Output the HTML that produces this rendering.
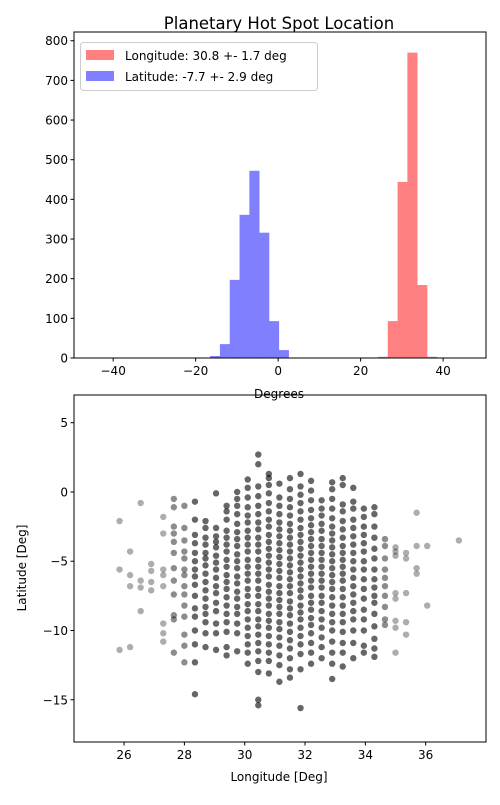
<!DOCTYPE html>
<html><head><meta charset="utf-8"><style>
body{margin:0;background:#fff;font-family:"Liberation Sans","DejaVu Sans",sans-serif}
svg text{font-family:"DejaVu Sans","Liberation Sans",sans-serif;fill:#000}
</style></head><body>
<svg id="c" width="500" height="800" xmlns="http://www.w3.org/2000/svg"></svg>
<script>
// Histogram data
const latBinStart = -16.5, lonBinStart = 24.2, binWidth = 2.38;
const latCounts = [5, 35, 197, 361, 472, 316, 93, 20];
const lonCounts = [3, 93, 444, 770, 184, 3];
const histXTicks = [-40, -20, 0, 20, 40];
const histYTicks = [0, 100, 200, 300, 400, 500, 600, 700, 800];
// Scatter data: longitude columns and latitude values per column
const scatterLons = [25.85,26.2,26.55,26.9,27.3,27.65,28.0,28.35,28.7,29.05,29.4,29.75,30.1,30.45,30.8,31.15,31.5,31.85,32.2,32.55,32.9,33.25,33.6,33.95,34.3,34.65,35.0,35.35,35.7,36.05,37.1];
const scatterLats = [
[-2.1,-5.6,-11.4],
[-4.3,-6.0,-6.8,-11.2],
[-0.8,-6.4,-6.9,-8.6],
[-5.2,-5.7,-6.5,-7.1],
[-1.8,-3.0,-5.6,-6.0,-6.8,-9.5,-10.2,-10.8],
[-0.5,-1.1,-2.5,-3.0,-3.6,-4.4,-5.5,-6.4,-7.4,-8.9,-9.2,-11.6],
[-1.0,-2.6,-3.5,-4.3,-4.8,-5.6,-6.0,-6.8,-7.4,-8.2,-9.0,-10.3,-11.1,-12.3],
[-0.7,-2.0,-3.1,-3.7,-4.4,-5.0,-5.6,-6.1,-6.7,-7.5,-8.4,-9.0,-10.0,-11.0,-12.3,-14.6],
[-2.1,-2.6,-3.3,-3.8,-4.4,-4.8,-5.3,-5.9,-6.5,-7.1,-7.7,-8.3,-8.8,-9.4,-10.2,-11.2],
[-0.1,-2.6,-3.2,-3.6,-4.0,-4.6,-5.1,-5.6,-6.2,-6.8,-7.3,-8.0,-8.6,-9.5,-10.2,-11.4],
[-1.0,-1.4,-2.0,-2.8,-3.3,-3.8,-4.3,-4.9,-5.4,-6.0,-6.5,-7.0,-7.6,-8.2,-8.8,-9.4,-10.1,-11.2,-11.8],
[0.0,-0.5,-1.0,-1.6,-2.3,-2.9,-3.4,-3.9,-4.5,-5.0,-5.5,-6.1,-6.6,-7.2,-7.7,-8.3,-8.8,-9.5,-10.2,-11.5],
[0.9,0.3,-0.4,-1.1,-1.7,-2.2,-2.8,-3.3,-3.8,-4.3,-4.9,-5.4,-5.9,-6.4,-7.0,-7.5,-8.1,-8.6,-9.2,-9.8,-10.4,-11.0,-11.6,-12.4],
[2.7,2.0,0.4,-0.3,-1.0,-1.6,-2.2,-2.7,-3.3,-3.8,-4.3,-4.9,-5.4,-5.9,-6.4,-7.0,-7.5,-8.1,-8.6,-9.2,-9.7,-10.3,-10.9,-11.5,-12.2,-13.0,-15.0,-15.4],
[1.3,1.0,0.5,-0.1,-0.8,-1.4,-2.0,-2.5,-3.1,-3.6,-4.1,-4.6,-5.1,-5.6,-6.1,-6.7,-7.2,-7.7,-8.2,-8.8,-9.3,-9.8,-10.4,-11.0,-11.6,-12.2,-13.1],
[0.6,-0.4,-1.0,-1.6,-2.2,-2.7,-3.2,-3.7,-4.2,-4.7,-5.2,-5.7,-6.2,-6.8,-7.3,-7.8,-8.3,-8.8,-9.4,-9.9,-10.5,-11.1,-11.8,-12.5,-13.7],
[1.0,0.2,-0.5,-1.1,-1.7,-2.3,-2.8,-3.3,-3.8,-4.3,-4.8,-5.3,-5.8,-6.3,-6.8,-7.3,-7.9,-8.4,-8.9,-9.5,-10.1,-10.7,-11.3,-12.0,-12.8,-13.4],
[1.3,0.4,-0.2,-0.8,-1.4,-2.0,-2.6,-3.1,-3.6,-4.1,-4.6,-5.1,-5.6,-6.1,-6.6,-7.1,-7.6,-8.2,-8.7,-9.2,-9.8,-10.4,-11.0,-11.7,-12.8,-15.6],
[0.8,0.1,-0.6,-1.3,-1.9,-2.4,-2.9,-3.4,-3.9,-4.4,-4.9,-5.4,-5.9,-6.4,-6.9,-7.5,-8.0,-8.5,-9.1,-9.6,-10.2,-10.9,-11.6,-12.4],
[-0.6,-1.2,-1.7,-2.3,-2.8,-3.4,-3.9,-4.4,-4.9,-5.4,-5.9,-6.4,-6.9,-7.5,-8.0,-8.6,-9.2,-9.8,-10.5,-11.2,-12.0],
[0.7,0.2,-0.5,-1.2,-1.9,-2.5,-3.0,-3.5,-4.0,-4.5,-5.0,-5.5,-6.0,-6.5,-7.0,-7.6,-8.2,-8.8,-9.4,-10.0,-10.8,-11.6,-12.4,-13.5],
[1.0,0.5,-0.9,-1.4,-2.1,-2.7,-3.3,-3.9,-4.4,-4.9,-5.4,-5.9,-6.4,-7.0,-7.6,-8.2,-8.8,-9.4,-10.1,-10.9,-11.6,-12.6],
[0.3,-0.7,-1.2,-2.0,-2.6,-3.2,-3.8,-4.4,-5.0,-5.6,-6.2,-6.8,-7.4,-8.0,-8.6,-9.2,-10.0,-10.9,-12.0],
[-1.2,-1.8,-2.5,-3.1,-3.7,-4.3,-5.0,-5.6,-6.3,-7.0,-7.7,-8.5,-9.2,-10.0,-11.1,-11.6],
[-1.1,-1.6,-2.5,-3.3,-4.1,-4.8,-5.6,-6.3,-6.9,-7.5,-8.0,-8.8,-9.7,-10.6,-11.3,-11.9],
[-3.4,-3.9,-4.8,-5.6,-6.2,-6.8,-7.5,-8.3,-9.2,-9.6],
[-4.0,-4.3,-4.6,-7.3,-7.7,-9.3,-9.8,-11.6],
[-4.4,-4.8,-7.3,-9.4,-10.3],
[-1.5,-3.9,-5.5,-5.9],
[-3.9,-8.2],
[-3.5]
];
const scXTicks = [26, 28, 30, 32, 34, 36];
const scYTicks = [5, 0, -5, -10, -15];

const NS = "http://www.w3.org/2000/svg";
const svg = document.getElementById('c');
function mk(tag, attrs, parent) {
  const e = document.createElementNS(NS, tag);
  for (const k in attrs) e.setAttribute(k, attrs[k]);
  (parent || svg).appendChild(e);
  return e;
}
function txt(s, x, y, size, anchor, parent) {
  const t = mk('text', {x: x, y: y, 'font-size': size, 'text-anchor': anchor || 'middle'}, parent);
  t.textContent = s;
  return t;
}

// ---------- Histogram ----------
const H = {l: 74, r: 486, t: 32, b: 358, xmin: -49.5, xmax: 50.4, ymin: 0, ymax: 822};
const hx = v => H.l + (v - H.xmin) / (H.xmax - H.xmin) * (H.r - H.l);
const hy = v => H.b - (v - H.ymin) / (H.ymax - H.ymin) * (H.b - H.t);
const g1 = mk('g', {});


latCounts.forEach((c, i) => {
  const x0 = hx(latBinStart + i * binWidth), x1 = hx(latBinStart + (i + 1) * binWidth);
  const r = mk('rect', {x: x0, y: hy(c), width: x1 - x0 + 0.3, height: hy(0) - hy(c), fill: '#8080ff'}, g1);
  
  
});
lonCounts.forEach((c, i) => {
  const x0 = hx(lonBinStart + i * binWidth), x1 = hx(lonBinStart + (i + 1) * binWidth);
  const r = mk('rect', {x: x0, y: hy(c), width: x1 - x0 + 0.3, height: hy(0) - hy(c), fill: '#ff8080'}, g1);
  
  
});
mk('rect', {x: H.l, y: H.t, width: H.r - H.l, height: H.b - H.t, fill: 'none', stroke: '#000', 'stroke-width': 1}, g1);
histXTicks.forEach(v => {
  mk('line', {x1: hx(v), x2: hx(v), y1: H.b, y2: H.b + 3.5, stroke: '#000'}, g1);
  txt(v < 0 ? '\u2212' + (-v) : String(v), hx(v), H.b + 17, 12, 'middle', g1);
});
histYTicks.forEach(v => {
  mk('line', {x1: H.l - 3.5, x2: H.l, y1: hy(v), y2: hy(v), stroke: '#000'}, g1);
  txt(String(v), H.l - 6, hy(v) + 4.5, 12, 'end', g1);
});
const ht = txt('Planetary Hot Spot Location', 279, 29, 16.5, 'middle', g1);


const hxl = txt('Degrees', 279, 398, 12, 'middle', g1);


// legend
const lg = mk('g', {}, g1);


mk('rect', {x: 80.5, y: 42.5, width: 237, height: 48, rx: 3, fill: '#fff', 'fill-opacity': 0.8, stroke: '#ccc'}, lg);
mk('rect', {x: 86, y: 50, width: 28, height: 10, fill: '#ff8080'}, lg);
mk('rect', {x: 86, y: 71, width: 28, height: 10, fill: '#8080ff'}, lg);
txt('Longitude: 30.8 +- 1.7 deg', 125, 60, 12, 'start', lg);
txt('Latitude: -7.7 +- 2.9 deg', 125, 81, 12, 'start', lg);

// ---------- Scatter ----------
const S = {l: 74, r: 486, t: 395, b: 742, xmin: 24.34, xmax: 38.0, ymin: -18.05, ymax: 7.0};
const sx = v => S.l + (v - S.xmin) / (S.xmax - S.xmin) * (S.r - S.l);
const sy = v => S.b - (v - S.ymin) / (S.ymax - S.ymin) * (S.b - S.t);
const g2 = mk('g', {});


scatterLons.forEach((lon, i) => {
  const n = scatterLats[i].length;
  scatterLats[i].forEach(lat => {
    const op = n > 15 ? 0.6 : (n > 8 ? 0.45 : 0.32);
    const c = mk('circle', {cx: sx(lon), cy: sy(lat), r: 3.2, fill: '#000', 'fill-opacity': op}, g2);
    
    
  });
});
mk('rect', {x: S.l, y: S.t, width: S.r - S.l, height: S.b - S.t, fill: 'none', stroke: '#000'}, g2);
scXTicks.forEach(v => {
  mk('line', {x1: sx(v), x2: sx(v), y1: S.b, y2: S.b + 3.5, stroke: '#000'}, g2);
  txt(String(v), sx(v), S.b + 17, 12, 'middle', g2);
});
scYTicks.forEach(v => {
  mk('line', {x1: S.l - 3.5, x2: S.l, y1: sy(v), y2: sy(v), stroke: '#000'}, g2);
  txt(v < 0 ? '\u2212' + (-v) : String(v), S.l - 6, sy(v) + 4.5, 12, 'end', g2);
});
const sxl = txt('Longitude [Deg]', 279, 781, 12, 'middle', g2);


const syl = txt('Latitude [Deg]', 0, 0, 12, 'middle', g2);
syl.setAttribute('transform', 'translate(26,568) rotate(-90)');


</script>
</body></html>
